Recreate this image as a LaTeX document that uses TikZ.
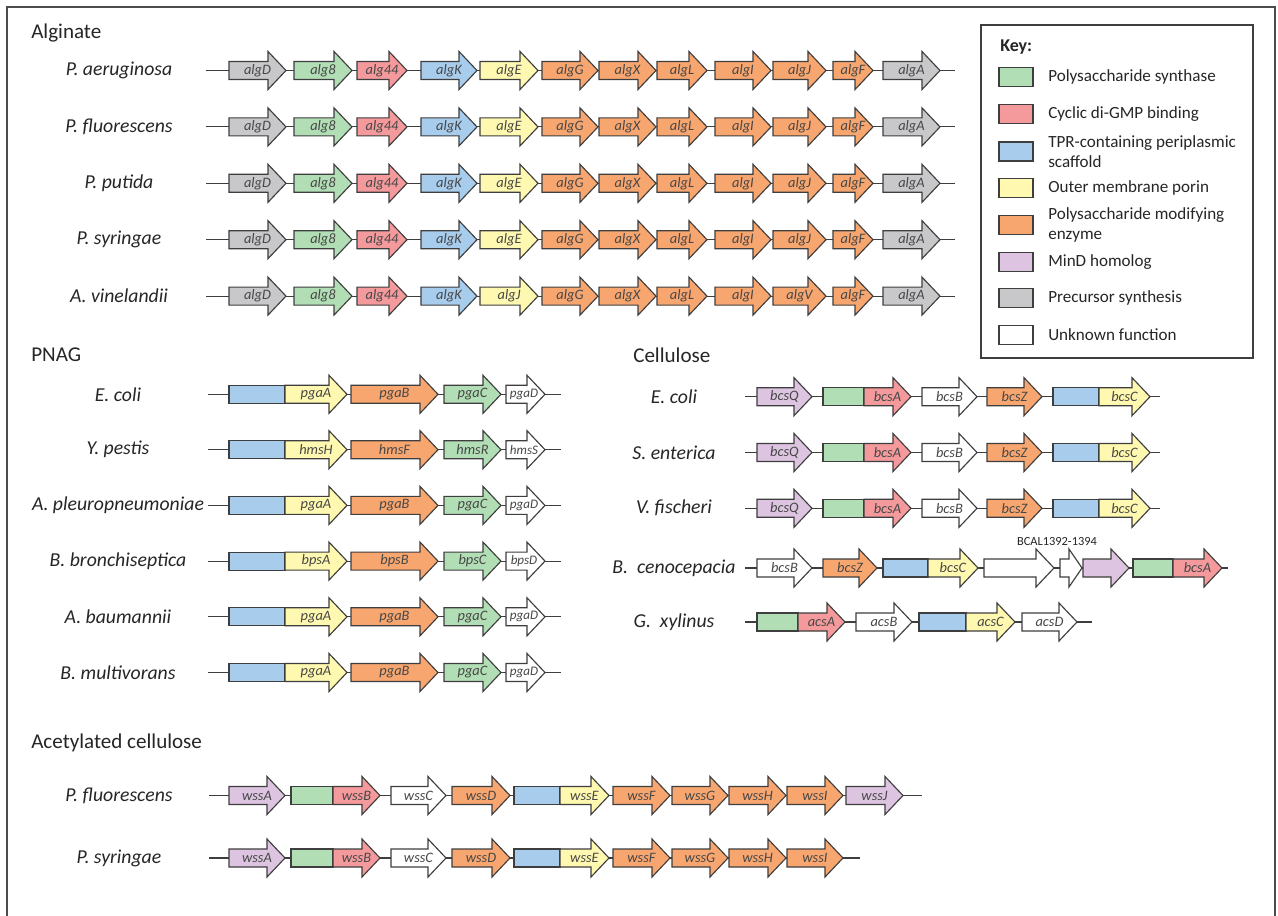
\documentclass[tikz,border=0pt]{standalone}
\usepackage{fontspec}
\setmainfont{Carlito}
\definecolor{csyn}{RGB}{178,222,181}
\definecolor{ccdg}{RGB}{244,154,156}
\definecolor{ctpr}{RGB}{168,204,236}
\definecolor{cpor}{RGB}{255,248,176}
\definecolor{cmod}{RGB}{247,166,112}
\definecolor{cmin}{RGB}{221,196,225}
\definecolor{cpre}{RGB}{200,200,202}
\definecolor{cunk}{RGB}{255,255,255}
\definecolor{cedge}{RGB}{62,62,62}
\definecolor{ctext}{RGB}{38,38,38}
\tikzset{
  genebody/.style={draw=cedge, line width=0.85pt, line join=miter},
  backbone/.style={draw=cedge, line width=0.85pt},
  genelabel/.style={inner sep=0pt, text=ctext!85!white, font=\fontsize{10.8}{12}\selectfont\itshape},
  smalllabel/.style={genelabel, font=\fontsize{9.8}{11}\selectfont\itshape},
  species/.style={inner sep=0pt, text=ctext, font=\fontsize{14.8}{17}\selectfont\itshape},
  section/.style={inner sep=0pt, anchor=west, text=ctext, font=\fontsize{15.8}{18}\selectfont},
  keytext/.style={inner sep=0pt, anchor=west, text=ctext, align=left, font=\fontsize{12.8}{15}\selectfont},
  swatch/.style={draw=cedge, line width=0.85pt},
  frameline/.style={draw=black!70, line width=1pt}
}
% gene arrow: name, start x, tip x, y, fill, label, head length
\newcommand\gnx[7]{%
  \draw[genebody,fill=#5] (#2,#4-9) -- (#3-#7,#4-9) -- (#3-#7,#4-19) -- (#3,#4)
    -- (#3-#7,#4+19) -- (#3-#7,#4+9) -- (#2,#4+9) -- cycle;
  \node[genelabel] (#1) at ({(#2+#3)/2},#4) {#6};}
\newcommand\gn[6]{\gnx{#1}{#2}{#3}{#4}{#5}{#6}{18}}
% plain domain box in front of an arrow: start x, end x, y, fill
\newcommand\gbox[4]{\draw[genebody,fill=#4] (#1,#3-9) rectangle (#2,#3+9);}
\begin{document}
\begin{tikzpicture}[x=0.75pt,y=-0.75pt]
\useasboundingbox (0,0) rectangle (1278,916);
\fill[white] (0,0) rectangle (1278,916);
\draw[frameline] (7,916) -- (7,7) -- (1275,7) -- (1275,916);

% ---------------- Alginate ----------------
\node[section] (t-alg) at (31,33) {Alginate};
\foreach \y/\name/\e/\j [count=\i] in {70.5/P. aeruginosa/algE/algJ,
    126.9/P. fluorescens/algE/algJ, 183.3/P. putida/algE/algJ,
    239.7/P. syringae/algE/algJ, 296.1/A. vinelandii/algJ/algV}{
  \node[species] (sa\i) at (119,\y) {\name};
  \coordinate (a\i s) at (206,\y);
  \coordinate (a\i e) at (955,\y);
  \draw[backbone] (a\i s) -- (a\i e);
  \gn{a\i-1}{229}{286}{\y}{cpre}{algD}
  \gn{a\i-2}{294}{352}{\y}{csyn}{alg8}
  \gn{a\i-3}{357}{407}{\y}{ccdg}{alg44}
  \gn{a\i-4}{421}{477}{\y}{ctpr}{algK}
  \gn{a\i-5}{480}{538}{\y}{cpor}{\e}
  \gn{a\i-6}{542}{598}{\y}{cmod}{algG}
  \gn{a\i-7}{599}{656}{\y}{cmod}{algX}
  \gn{a\i-8}{657}{707}{\y}{cmod}{algL}
  \gn{a\i-9}{715}{771}{\y}{cmod}{algI}
  \gn{a\i-10}{773}{826}{\y}{cmod}{\j}
  \gn{a\i-11}{833}{873}{\y}{cmod}{algF}
  \gn{a\i-12}{883}{940}{\y}{cpre}{algA}
}

% ---------------- PNAG ----------------
\node[section] (t-pnag) at (31,355) {PNAG};
\foreach \y/\name/\ga/\gb/\gc/\gd [count=\i] in {
    394.3/E. coli/pgaA/pgaB/pgaC/pgaD,
    449.7/Y. pestis/hmsH/hmsF/hmsR/hmsS,
    505.4/A. pleuropneumoniae/pgaA/pgaB/pgaC/pgaD,
    561.1/B. bronchiseptica/bpsA/bpsB/bpsC/bpsD,
    616.8/A. baumannii/pgaA/pgaB/pgaC/pgaD,
    672.5/B. multivorans/pgaA/pgaB/pgaC/pgaD}{
  \node[species] (sp\i) at (118,\y) {\name};
  \coordinate (p\i s) at (208,\y);
  \coordinate (p\i e) at (561,\y);
  \draw[backbone] (p\i s) -- (p\i e);
  \gbox{229}{285}{\y}{ctpr}
  \gn{p\i-1}{285}{347}{\y}{cpor}{\ga}
  \gn{p\i-2}{351}{438}{\y}{cmod}{\gb}
  \gn{p\i-3}{444}{501}{\y}{csyn}{\gc}
  \gnx{p\i-4}{506}{545}{\y}{cunk}{}{18}
  \node[smalllabel] (p\i-4t) at (524,\y) {\gd};
}

% ---------------- Cellulose ----------------
\node[section] (t-cel) at (633,355) {Cellulose};
\foreach \y/\name [count=\i] in {396.7/E. coli, 452.5/S. enterica, 508.3/V. fischeri}{
  \node[species] (sc\i) at (674,\y) {\name};
  \coordinate (c\i s) at (745,\y);
  \coordinate (c\i e) at (1160,\y);
  \draw[backbone] (c\i s) -- (c\i e);
  \gn{c\i-1}{757}{812}{\y}{cmin}{bcsQ}
  \gbox{823}{864}{\y}{csyn}
  \gn{c\i-2}{864}{911}{\y}{ccdg}{bcsA}
  \gn{c\i-3}{922}{977}{\y}{cunk}{bcsB}
  \gn{c\i-4}{987}{1042}{\y}{cmod}{bcsZ}
  \gbox{1053}{1099}{\y}{ctpr}
  \gn{c\i-5}{1099}{1150}{\y}{cpor}{bcsC}
}
% B. cenocepacia
\node[species] (sc4) at (674,568) {B.~~cenocepacia};
\coordinate (c4s) at (745,568);
\coordinate (c4e) at (1228,568);
\draw[backbone] (c4s) -- (c4e);
\gn{c4-1}{757}{812}{568}{cunk}{bcsB}
\gn{c4-2}{823}{877}{568}{cmod}{bcsZ}
\gbox{883}{928}{568}{ctpr}
\gn{c4-3}{928}{978}{568}{cpor}{bcsC}
\gn{c4-4}{984}{1054}{568}{cunk}{}
\gnx{c4-5}{1060}{1082}{568}{cunk}{}{13}
\gn{c4-6}{1083}{1129}{568}{cmin}{}
\gbox{1133}{1173}{568}{csyn}
\gn{c4-7}{1173}{1222}{568}{ccdg}{bcsA}
\node[inner sep=0pt, text=ctext, font=\fontsize{9.3}{11}\selectfont] (bcal) at (1057,542) {BCAL1392-1394};
% G. xylinus
\node[species] (sc5) at (674,622) {G.~~xylinus};
\coordinate (c5s) at (745,622);
\coordinate (c5e) at (1092,622);
\draw[backbone] (c5s) -- (c5e);
\gbox{757}{798}{622}{csyn}
\gn{c5-1}{798}{845}{622}{ccdg}{acsA}
\gn{c5-2}{856}{912}{622}{cunk}{acsB}
\gbox{919}{966}{622}{ctpr}
\gn{c5-3}{966}{1015}{622}{cpor}{acsC}
\gn{c5-4}{1022}{1077}{622}{cunk}{acsD}

% ---------------- Acetylated cellulose ----------------
\node[section] (t-ace) at (31,743) {Acetylated cellulose};
\foreach \y/\name/\e [count=\i] in {795.5/P. fluorescens/922, 858/P. syringae/860}{
  \node[species] (sw\i) at (119,\y) {\name};
  \coordinate (w\i s) at (209,\y);
  \coordinate (w\i e) at (\e,\y);
  \draw[backbone] (w\i s) -- (w\i e);
  \gn{w\i-1}{229}{285}{\y}{cmin}{wssA}
  \gbox{291}{333}{\y}{csyn}
  \gn{w\i-2}{333}{380}{\y}{ccdg}{wssB}
  \gn{w\i-3}{391}{446}{\y}{cunk}{wssC}
  \gn{w\i-4}{452}{510}{\y}{cmod}{wssD}
  \gbox{514}{560}{\y}{ctpr}
  \gn{w\i-5}{560}{609}{\y}{cpor}{wssE}
  \gn{w\i-6}{613}{670}{\y}{cmod}{wssF}
  \gn{w\i-7}{672}{728}{\y}{cmod}{wssG}
  \gn{w\i-8}{729}{786}{\y}{cmod}{wssH}
  \gn{w\i-9}{787}{843}{\y}{cmod}{wssI}
}
\gn{w1-10}{846}{903}{795.5}{cmin}{wssJ}

% ---------------- Key ----------------
\draw[draw=cedge, line width=0.85pt, fill=white] (981,25) rectangle (1253,358);
\node[keytext, font=\fontsize{13.5}{16}\selectfont\bfseries] (k0) at (1000,47) {Key:};
\foreach \y/\c/\t [count=\i] in {77/csyn/Polysaccharide synthase,
    114/ccdg/Cyclic di-GMP binding,
    151.5/ctpr/{TPR-containing periplasmic\\scaffold},
    188/cpor/Outer membrane porin,
    225/cmod/{Polysaccharide modifying\\enzyme},
    262/cmin/MinD homolog,
    298/cpre/Precursor synthesis,
    335/cunk/Unknown function}{
  \draw[swatch, fill=\c] (999,\y-9.5) rectangle (1033,\y+9.5);
  \node[keytext] (k\i) at (1048,\y) {\t};
}
\end{tikzpicture}
\end{document}
